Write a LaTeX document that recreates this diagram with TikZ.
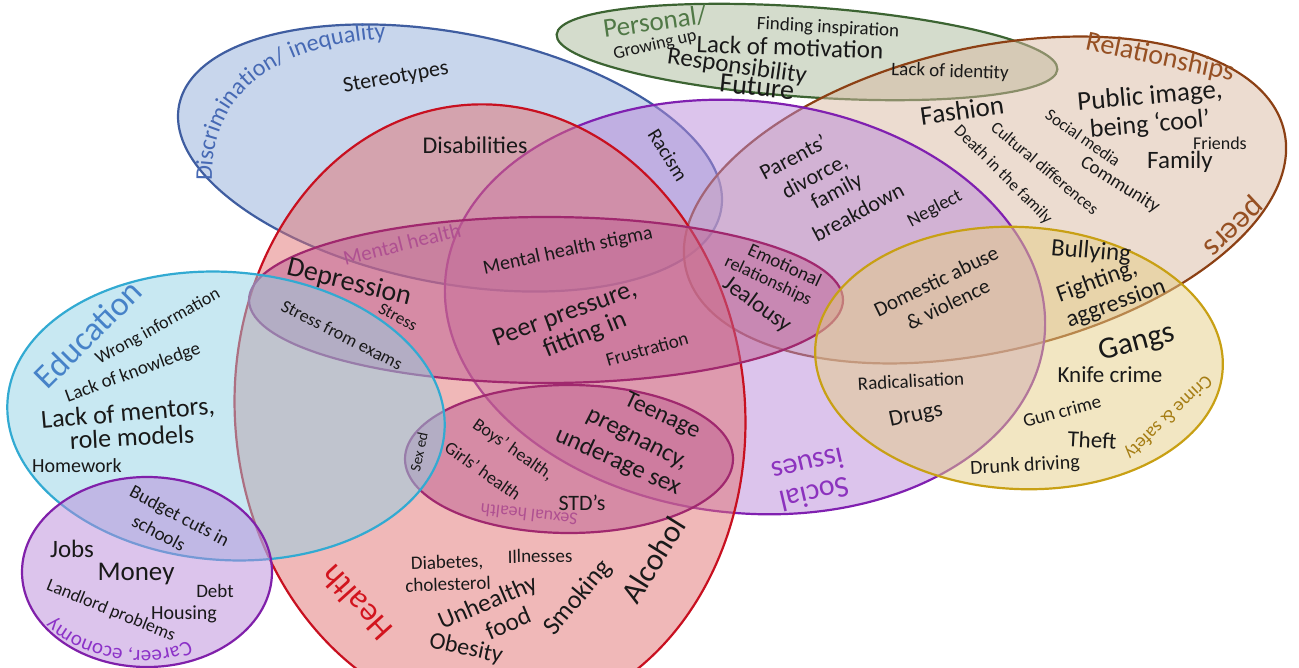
\documentclass[tikz,border=0pt]{standalone}
\usepackage{fontspec}
\setmainfont{Carlito}
\usetikzlibrary{decorations.text}

\definecolor{discline}{RGB}{63,93,160}
\definecolor{discfill}{RGB}{145,173,217}
\definecolor{healthline}{RGB}{200,16,32}
\definecolor{healthfill}{RGB}{225,113,113}
\definecolor{socline}{RGB}{128,32,176}
\definecolor{socfill}{RGB}{185,137,217}
\definecolor{relline}{RGB}{140,64,20}
\definecolor{relfill}{RGB}{217,185,161}
\definecolor{persline}{RGB}{60,100,50}
\definecolor{persfill}{RGB}{169,185,153}
\definecolor{crimeline}{RGB}{200,160,20}
\definecolor{crimefill}{RGB}{229,205,133}
\definecolor{eduline}{RGB}{50,170,210}
\definecolor{edufill}{RGB}{145,209,229}
\definecolor{carline}{RGB}{128,32,170}
\definecolor{carfill}{RGB}{185,137,217}
\definecolor{mentline}{RGB}{160,40,110}
\definecolor{mentfill}{RGB}{190,96,146}
\definecolor{txt}{RGB}{25,25,25}
\definecolor{disctitle}{RGB}{70,105,180}
\definecolor{perstitle}{RGB}{80,120,70}
\definecolor{reltitle}{RGB}{150,80,35}
\definecolor{soctitle}{RGB}{140,50,190}
\definecolor{healthtitle}{RGB}{210,20,30}
\definecolor{mentitle}{RGB}{175,80,145}
\definecolor{edutitle}{RGB}{70,130,200}
\definecolor{cartitle}{RGB}{140,50,200}
\definecolor{crimetitle}{RGB}{165,125,20}

\begin{document}
\begin{tikzpicture}[
  x=1pt, y=1pt,
  ell/.style = {line width=2.2pt, fill opacity=0.5},
  lbl/.style = {inner sep=0pt, text=txt},
  fs/.style = {font=\fontsize{#1}{#1}\selectfont}
]
  \useasboundingbox (0,0) rectangle (1299,-668);

  % Topic ellipses
  \draw[ell, draw=discline, fill=discfill, rotate around={-11:(450,-158)}] (450,-158) ellipse [x radius=276, y radius=125];
  \draw[ell, draw=persline, fill=persfill, rotate around={-4:(807,-52)}] (807,-52) ellipse [x radius=251, y radius=45];
  \draw[ell, draw=relline, fill=relfill, rotate around={13:(985,-200)}] (985,-200) ellipse [x radius=307, y radius=152];
  \draw[ell, draw=socline, fill=socfill, rotate around={-6:(745,-307)}] (745,-307) ellipse [x radius=301, y radius=206];
  \draw[ell, draw=healthline, fill=healthfill, rotate around={5:(490,-412)}] (490,-412) ellipse [x radius=255, y radius=308];
  \draw[ell, draw=mentline, fill=mentfill] (546,-300) ellipse [x radius=297, y radius=83];
  \draw[ell, draw=mentline, fill=mentfill] (569,-459) ellipse [x radius=164, y radius=74];
  \draw[ell, draw=eduline, fill=edufill, rotate around={-4:(226,-416)}] (226,-416) ellipse [x radius=219, y radius=144];
  \draw[ell, draw=carline, fill=carfill] (147,-572) ellipse [x radius=125, y radius=95];
  \draw[ell, draw=crimeline, fill=crimefill, rotate around={-3:(1019,-358)}] (1019,-358) ellipse [x radius=204, y radius=131];

  % Curved titles
  \path[decorate, decoration={text along path, text align=center,
    text={|\fontsize{24}{24}\selectfont\color{disctitle}|Discrimination/ inequality}}]
    (213,-195) .. controls (203,-100) and (268,-42) .. (400,-38);
  \path[decorate, decoration={text along path, text align=center,
    text={|\fontsize{21}{21}\selectfont\color{cartitle}|Career, economy}}]
    (200,-633) .. controls (165,-662) and (85,-657) .. (43,-608);

  % Other titles
  \node[lbl, fs=27, rotate=8, text=perstitle] (perstit) at (655,-22) {Personal/};
  \node[lbl, fs=28, rotate=-12, text=reltitle] (reltit) at (1160,-58) {Relationships};
  \node[lbl, fs=32, rotate=-137, text=reltitle] (peerstit) at (1232,-225) {peers};
  \node[lbl, fs=30, rotate=193, text=soctitle, align=center] (soctit) at (811,-480) {Social\\issues};
  \node[lbl, fs=33, rotate=132, text=healthtitle] (healthtit) at (356,-603) {Health};
  \node[lbl, fs=21, rotate=14, text=mentitle] (menttit) at (402,-244) {Mental health};
  \node[lbl, fs=18, rotate=174, text=mentitle] (sextit) at (529,-515) {Sexual health};
  \node[lbl, fs=34, rotate=45, text=edutitle] (edutit) at (88,-334) {Education};
  \node[lbl, fs=19, rotate=224, text=crimetitle] (crimetit) at (1168,-417) {Crime \& safety};

  % Discrimination
  \node[lbl, fs=22, rotate=10] (stereo) at (396,-78) {Stereotypes};
  \node[lbl, fs=24] (disab) at (475,-145) {Disabilities};
  \node[lbl, fs=20, rotate=-58] (racism) at (668,-155) {Racism};

  % Personal
  \node[lbl, fs=19, rotate=-3] (inspire) at (828,-28) {Finding inspiration};
  \node[lbl, fs=18, rotate=13] (growing) at (655,-45) {Growing up};
  \node[lbl, fs=25, rotate=-2] (motiv) at (790,-47) {Lack of motivation};
  \node[lbl, fs=25, rotate=-8] (respons) at (737,-67) {Responsibility};
  \node[lbl, fs=28, rotate=-6] (future) at (757,-87) {Future};
  \node[lbl, fs=19, rotate=-2] (identity) at (950,-72) {Lack of identity};

  % Relationships
  \node[lbl, fs=27, rotate=5] (public) at (1150,-97) {Public image,};
  \node[lbl, fs=26, rotate=5] (cool) at (1150,-125) {being ‘cool’};
  \node[lbl, fs=18] (friends) at (1220,-143) {Friends};
  \node[lbl, fs=25] (family) at (1180,-162) {Family};
  \node[lbl, fs=27, rotate=8] (fashion) at (962,-110) {Fashion};
  \node[lbl, fs=17, rotate=-35] (socmedia) at (1083,-138) {Social media};
  \node[lbl, fs=17, rotate=-40] (cultural) at (1045,-168) {Cultural differences};
  \node[lbl, fs=17, rotate=-45] (death) at (1003,-175) {Death in the family};
  \node[lbl, fs=19, rotate=-32] (community) at (1120,-185) {Community};

  % Social issues / relationships
  \node[lbl, fs=22, rotate=28] (parents) at (793,-157) {Parents’};
  \node[lbl, fs=22, rotate=28] (divorce) at (815,-177) {divorce,};
  \node[lbl, fs=22, rotate=28] (famly) at (837,-192) {family};
  \node[lbl, fs=22, rotate=28] (breakdown) at (858,-212) {breakdown};
  \node[lbl, fs=19, rotate=28] (neglect) at (935,-209) {Neglect};
  \node[lbl, fs=19, rotate=-25] (emotional) at (785,-265) {Emotional};
  \node[lbl, fs=18, rotate=-25] (relships) at (768,-281) {relationships};
  \node[lbl, fs=23, rotate=-36] (jealousy) at (757,-305) {Jealousy};
  \node[lbl, fs=21, rotate=26] (domestic) at (936,-281) {Domestic abuse};
  \node[lbl, fs=21, rotate=26] (violence) at (948,-304) {\& violence};

  % Crime and safety
  \node[lbl, fs=25, rotate=-5] (bullying) at (1091,-252) {Bullying};
  \node[lbl, fs=24, rotate=20] (fighting) at (1097,-282) {Fighting,};
  \node[lbl, fs=24, rotate=20] (aggress) at (1116,-304) {aggression};
  \node[lbl, fs=31, rotate=15] (gangs) at (1137,-343) {Gangs};
  \node[lbl, fs=23] (knife) at (1110,-375) {Knife crime};
  \node[lbl, fs=19, rotate=15] (gun) at (1062,-411) {Gun crime};
  \node[lbl, fs=23, rotate=-3] (theft) at (1092,-440) {Theft};
  \node[lbl, fs=20, rotate=3] (drunk) at (1025,-466) {Drunk driving};
  \node[lbl, fs=19, rotate=3] (radical) at (911,-381) {Radicalisation};
  \node[lbl, fs=23, rotate=12] (drugs) at (916,-416) {Drugs};

  % Mental health
  \node[lbl, fs=20, rotate=12] (stigma) at (568,-251) {Mental health stigma};
  \node[lbl, fs=26, rotate=20] (peer) at (565,-315) {Peer pressure,};
  \node[lbl, fs=26, rotate=22] (fitting) at (585,-335) {fitting in};
  \node[lbl, fs=19, rotate=16] (frustr) at (647,-349) {Frustration};
  \node[lbl, fs=28, rotate=-14] (depress) at (349,-283) {Depression};
  \node[lbl, fs=17, rotate=-28] (stress) at (398,-317) {Stress};
  \node[lbl, fs=18, rotate=-27] (exams) at (342,-335) {Stress from exams};

  % Education
  \node[lbl, fs=18, rotate=29] (wrong) at (158,-327) {Wrong information};
  \node[lbl, fs=19, rotate=20] (knowledge) at (133,-373) {Lack of knowledge};
  \node[lbl, fs=26, rotate=5] (mentors) at (128,-414) {Lack of mentors,};
  \node[lbl, fs=26, rotate=3] (role) at (132,-437) {role models};
  \node[lbl, fs=20] (homework) at (77,-466) {Homework};

  % Career, economy
  \node[lbl, fs=19, rotate=-28] (budget) at (179,-517) {Budget cuts in};
  \node[lbl, fs=19, rotate=-28] (schools) at (159,-533) {schools};
  \node[lbl, fs=25] (jobs) at (72,-549) {Jobs};
  \node[lbl, fs=27] (money) at (136,-574) {Money};
  \node[lbl, fs=19] (debt) at (215,-591) {Debt};
  \node[lbl, fs=18, rotate=-22] (landlord) at (111,-611) {Landlord problems};
  \node[lbl, fs=20] (housing) at (184,-614) {Housing};

  % Health
  \node[lbl, fs=19, rotate=2] (diabetes) at (447,-563) {Diabetes,};
  \node[lbl, fs=19, rotate=2] (cholest) at (448,-584) {cholesterol};
  \node[lbl, fs=19, rotate=1] (illness) at (540,-556) {Illnesses};
  \node[lbl, fs=25, rotate=23] (unhealthy) at (488,-603) {Unhealthy};
  \node[lbl, fs=25, rotate=23] (food) at (508,-623) {food};
  \node[lbl, fs=24, rotate=-12] (obesity) at (466,-649) {Obesity};
  \node[lbl, fs=26, rotate=50] (smoking) at (578,-598) {Smoking};
  \node[lbl, fs=31, rotate=58] (alcohol) at (653,-560) {Alcohol};

  % Sexual health
  \node[lbl, fs=24, rotate=-25] (teenage) at (662,-416) {Teenage};
  \node[lbl, fs=25, rotate=-27] (pregnancy) at (636,-441) {pregnancy,};
  \node[lbl, fs=25, rotate=-24] (underage) at (618,-462) {underage sex};
  \node[lbl, fs=18, rotate=-35] (boys) at (513,-450) {Boys’ health,};
  \node[lbl, fs=18, rotate=-35] (girls) at (483,-471) {Girls’ health};
  \node[lbl, fs=22] (std) at (582,-503) {STD’s};
  \node[lbl, fs=15, rotate=78] (sexed) at (419,-452) {Sex ed};

\end{tikzpicture}
\end{document}
